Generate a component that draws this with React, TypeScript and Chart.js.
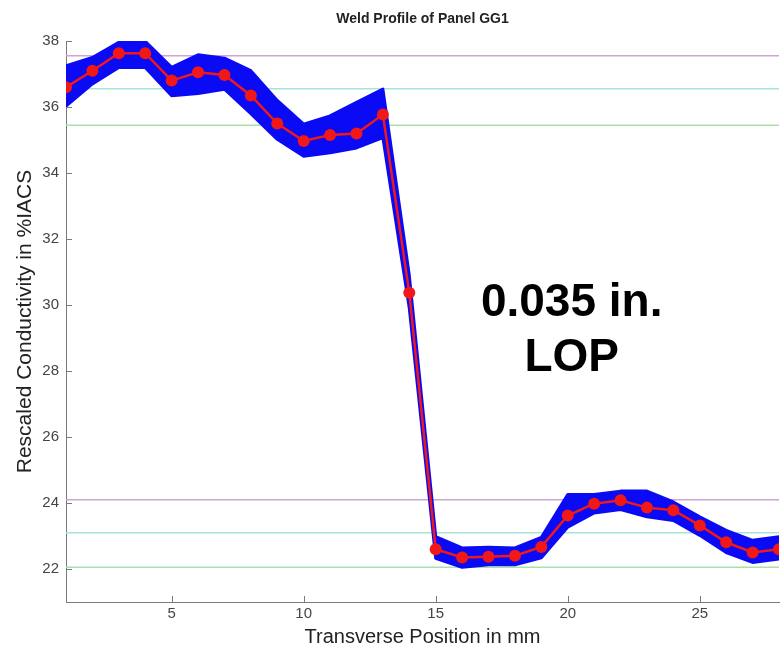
import React, { useEffect, useRef } from "react";
import { Chart, registerables } from "chart.js";

Chart.register(...registerables);

const FONT = "'Liberation Sans', Arial, Helvetica, sans-serif";

const chartTitle = "Weld Profile of Panel GG1";
const xAxisTitle = "Transverse Position in mm";
const yAxisTitle = "Rescaled Conductivity in %IACS";
const noteLines = ["0.035 in.", "LOP"];

const positions = [1, 2, 3, 4, 5, 6, 7, 8, 9, 10, 11, 12, 13, 14, 15, 16, 17, 18, 19, 20, 21, 22, 23, 24, 25, 26, 27, 28];
const meanProfile = [36.6, 37.1, 37.63, 37.63, 36.8, 37.05, 36.97, 36.35, 35.5, 34.97, 35.15, 35.2, 35.77, 30.37, 22.6, 22.35, 22.37, 22.4, 22.67, 23.62, 23.98, 24.08, 23.86, 23.78, 23.32, 22.81, 22.5, 22.6];
const bandUpper = [37.25, 37.5, 37.96, 37.99, 37.2, 37.58, 37.48, 37.1, 36.2, 35.48, 35.73, 36.14, 36.54, 30.9, 22.98, 22.64, 22.66, 22.64, 22.96, 24.26, 24.26, 24.36, 24.36, 24.03, 23.58, 23.17, 22.87, 22.98];
const bandLower = [36.03, 36.7, 37.2, 37.2, 36.34, 36.41, 36.54, 35.8, 35.02, 34.51, 34.61, 34.76, 35.07, 29.9, 22.32, 22.05, 22.13, 22.13, 22.34, 23.27, 23.7, 23.8, 23.58, 23.47, 23.02, 22.5, 22.2, 22.3];

const referenceLevels = [37.55, 36.55, 35.45, 24.1, 23.1, 22.05];
const referenceColors = ["#cfa3d6", "#a6e3df", "#a8e2a8", "#cfa3d6", "#a6e3df", "#a8e2a8"];

const xTicks = [5, 10, 15, 20, 25];
const yTicks = [22, 24, 26, 28, 30, 32, 34, 36, 38];
const xRange = [1, 28];
const yRange = [21, 38];
const noteAnchor = { x: 20.15, y: 29.68 };

const decorPlugin = {
  id: "decor",
  afterDraw(chart: any) {
    const { ctx, chartArea, scales } = chart;
    const xs = scales.x;
    const ys = scales.y;
    ctx.save();
    ctx.strokeStyle = "#7a7a7a";
    ctx.lineWidth = 1;
    ctx.beginPath();
    yTicks.forEach((v) => {
      const py = Math.round(ys.getPixelForValue(v)) + 0.5;
      ctx.moveTo(chartArea.left, py);
      ctx.lineTo(chartArea.left + 6, py);
    });
    xTicks.forEach((v) => {
      const px = Math.round(xs.getPixelForValue(v)) + 0.5;
      ctx.moveTo(px, chartArea.bottom);
      ctx.lineTo(px, chartArea.bottom - 6);
    });
    ctx.stroke();
    ctx.fillStyle = "#222";
    ctx.font = `bold 14px ${FONT}`;
    ctx.textAlign = "center";
    ctx.textBaseline = "alphabetic";
    ctx.fillText(chartTitle, (chartArea.left + chartArea.right) / 2, 23);
    ctx.fillStyle = "#000";
    ctx.font = `bold 46px ${FONT}`;
    const ax = xs.getPixelForValue(noteAnchor.x);
    const ay = ys.getPixelForValue(noteAnchor.y);
    ctx.fillText(noteLines[0], ax, ay);
    ctx.fillText(noteLines[1], ax, ay + 55);
    ctx.restore();
  },
};

export default function App() {
  const ref = useRef<HTMLCanvasElement | null>(null);
  useEffect(() => {
    if (!ref.current) return;
    const pts = (arr: number[]) => positions.map((x, i) => ({ x, y: arr[i] }));
    const refSets = referenceLevels.map((lvl, i) => ({
      data: [
        { x: xRange[0], y: lvl },
        { x: xRange[1], y: lvl },
      ],
      borderColor: referenceColors[i],
      borderWidth: 1.5,
      pointRadius: 0,
      fill: false,
    }));
    const blue = "#0a0af5";
    const chart = new Chart(ref.current, {
      type: "line",
      data: {
        datasets: [
          {
            data: pts(meanProfile),
            borderColor: "#f21818",
            borderWidth: 2.5,
            pointRadius: 6,
            pointBackgroundColor: "#f21818",
            pointBorderWidth: 0,
            fill: false,
          },
          {
            data: pts(bandUpper),
            borderColor: blue,
            backgroundColor: blue,
            borderWidth: 3,
            borderJoinStyle: "round",
            borderCapStyle: "round",
            tension: 0,
            pointRadius: 0,
            fill: "+1",
          },
          {
            data: pts(bandLower),
            borderColor: blue,
            borderWidth: 3,
            borderJoinStyle: "round",
            borderCapStyle: "round",
            tension: 0,
            pointRadius: 0,
            fill: false,
          },
          ...refSets,
        ] as any,
      },
      options: {
        responsive: false,
        animation: false,
        devicePixelRatio: 1,
        layout: { padding: { top: 41, right: 1, left: 0, bottom: 0 } },
        plugins: { legend: { display: false }, tooltip: { enabled: false }, title: { display: false } },
        scales: {
          x: {
            type: "linear",
            min: xRange[0],
            max: xRange[1],
            afterBuildTicks: (s: any) => {
              s.ticks = xTicks.map((v) => ({ value: v }));
            },
            afterFit: (s: any) => {
              s.height = 52;
            },
            grid: { drawOnChartArea: false, drawTicks: false },
            border: { display: true, color: "#7a7a7a", width: 1 },
            ticks: { color: "#444", font: { family: FONT, size: 15 }, padding: 3, autoSkip: false, maxRotation: 0 },
            title: { display: true, text: xAxisTitle, color: "#222", font: { family: FONT, size: 20 }, padding: { top: 0, bottom: 5 } },
          },
          y: {
            type: "linear",
            min: yRange[0],
            max: yRange[1],
            afterBuildTicks: (s: any) => {
              s.ticks = yTicks.map((v) => ({ value: v }));
            },
            afterFit: (s: any) => {
              s.width = 66;
            },
            grid: { drawOnChartArea: false, drawTicks: false },
            border: { display: true, color: "#7a7a7a", width: 1 },
            ticks: { color: "#444", font: { family: FONT, size: 15 }, padding: 7, autoSkip: false },
            title: { display: true, text: yAxisTitle, color: "#222", font: { family: FONT, size: 21 }, padding: { top: 13, bottom: 0 } },
          },
        },
      },
      plugins: [decorPlugin],
    });
    return () => chart.destroy();
  }, []);
  return (
    <div style={{ position: "absolute", left: 0, top: 0, width: 781, height: 654, overflow: "hidden", background: "#fff" }}>
      <canvas ref={ref} width={785} height={654} style={{ width: 785, height: 654, display: "block" }} />
    </div>
  );
}
